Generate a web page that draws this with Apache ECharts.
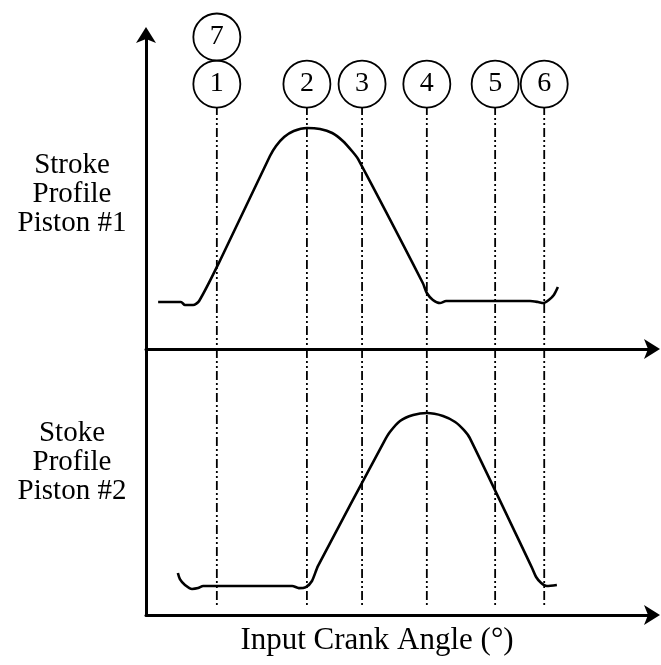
<!DOCTYPE html>
<html>
<head>
<meta charset="utf-8">
<title>Stroke profiles vs input crank angle</title>
<script src="https://cdn.jsdelivr.net/npm/echarts@6/dist/echarts.min.js"></script>
<style>
  html, body { margin: 0; padding: 0; background: #fff; }
  #chart { width: 661px; height: 665px; }
</style>
</head>
<body>
<div id="chart"></div>
<script>
// crank angle on a 0-100 scale, stroke in % of full stroke (0 = bottom dwell, 100 = top)
var piston1Angle = [2.4, 6.9, 7.7, 9.3, 10.5, 14.4, 24.5, 25.7, 27.3, 29.2, 31.8, 34.4, 36.8, 38.9, 40.7, 41.9, 54.7, 55.5, 56.7, 58.1, 59.3, 75.9, 77.5, 78.5, 79.6, 80.6, 81.4];
var piston1Stroke = [-0.6, -0.6, -2.3, -2.3, 0, 22.0, 83.8, 89.6, 94.8, 98.3, 100, 99.4, 97.1, 92.5, 86.7, 82.1, 10.4, 4.6, 0.6, -1.2, 0, 0, -0.6, -1.2, 0.6, 3.5, 8.1];

var piston2Angle = [6.3, 6.7, 7.7, 9.1, 10.3, 11.3, 28.9, 30.2, 31.6, 32.8, 34.0, 47.0, 48.2, 50.2, 52.8, 55.5, 58.7, 61.1, 62.8, 64.0, 76.3, 77.1, 78.1, 79.2, 81.2];
var piston2Stroke = [7.5, 4.0, 0.6, -1.7, -1.2, 0, 0, -1.2, -0.6, 2.9, 11.6, 83.2, 89.0, 95.4, 98.8, 100, 98.3, 94.8, 90.2, 85.5, 10.4, 5.2, 1.7, 0, 0.6];

var eventNames = ['1', '2', '3', '4', '5', '6'];
var eventAngles = [14.0, 31.8, 42.7, 55.5, 69.0, 78.7];
var repeatEventName = '7';   // same angle as event 1

var topRange = [-27.75, 153.76];
var bottomRange = [-16.76, 136.99];
var markerRow = 125.4, markerRowUpper = 152.6;
var guideBottom = -12.1;

var serif = '"Liberation Serif", "Times New Roman", serif';

function zip(xs, ys) {
  return xs.map(function (x, i) { return [x, ys[i]]; });
}

var axisX = function (idx) {
  return {
    type: 'value', gridIndex: idx, min: 0, max: 100,
    axisLine: { onZero: false, symbol: ['none', 'arrow'], symbolSize: [15, 16], symbolOffset: [0, 8], lineStyle: { color: '#000', width: 3 } },
    axisTick: { show: false }, axisLabel: { show: false }, splitLine: { show: false }
  };
};
var axisY = function (idx, range, arrow) {
  return {
    type: 'value', gridIndex: idx, min: range[0], max: range[1],
    axisLine: { show: true, onZero: false, symbol: arrow ? ['none', 'arrow'] : 'none', symbolSize: [15, 16], symbolOffset: [0, 8], lineStyle: { color: '#000', width: 3 } },
    axisTick: { show: false }, axisLabel: { show: false }, splitLine: { show: false }
  };
};

var series = [];
eventAngles.forEach(function (a) {
  var guide = { type: [9, 3, 2, 3, 2, 3], color: '#000', width: 1.8 };
  series.push({ type: 'line', xAxisIndex: 0, yAxisIndex: 0, data: [[a, markerRow], [a, topRange[0]]], symbol: 'none', lineStyle: guide, z: 2, silent: true });
  series.push({ type: 'line', xAxisIndex: 1, yAxisIndex: 1, data: [[a, bottomRange[1]], [a, guideBottom]], symbol: 'none', lineStyle: guide, z: 2, silent: true });
});

series.push({
  name: 'Piston #1', type: 'line', xAxisIndex: 0, yAxisIndex: 0,
  data: zip(piston1Angle, piston1Stroke), smooth: 0.25, showSymbol: false,
  lineStyle: { color: '#000', width: 2.6 }, z: 3
});
series.push({
  name: 'Piston #2', type: 'line', xAxisIndex: 1, yAxisIndex: 1,
  data: zip(piston2Angle, piston2Stroke), smooth: 0.25, showSymbol: false,
  lineStyle: { color: '#000', width: 2.6 }, z: 3
});

var markers = eventNames.map(function (n, i) { return [eventAngles[i], markerRow, n]; });
markers.push([eventAngles[0], markerRowUpper, repeatEventName]);
series.push({
  type: 'scatter', xAxisIndex: 0, yAxisIndex: 0, clip: false,
  data: markers, symbol: 'circle', symbolSize: 47, z: 5,
  itemStyle: { color: '#fff', borderColor: '#000', borderWidth: 1.8, opacity: 1 },
  label: {
    show: true, position: 'inside', color: '#000',
    fontFamily: serif, fontSize: 28,
    formatter: function (p) { return p.value[2]; }
  }
});

var chart = echarts.init(document.getElementById('chart'));
chart.setOption({
  backgroundColor: '#fff',
  animation: false,
  grid: [
    { left: 146, right: 9, top: 35, height: 314 },
    { left: 146, right: 9, top: 349, height: 266 }
  ],
  xAxis: [axisX(0), axisX(1)],
  yAxis: [axisY(0, topRange, true), axisY(1, bottomRange, false)],
  graphic: [
    { type: 'text', x: 72, y: 194, style: { text: 'Stroke\nProfile\nPiston #1', textAlign: 'center', textVerticalAlign: 'middle', font: '29px ' + serif, lineHeight: 29, fill: '#000' } },
    { type: 'text', x: 72, y: 462, style: { text: 'Stoke\nProfile\nPiston #2', textAlign: 'center', textVerticalAlign: 'middle', font: '29px ' + serif, lineHeight: 29, fill: '#000' } },
    { type: 'text', x: 377, y: 641, style: { text: 'Input Crank Angle (°)', textAlign: 'center', textVerticalAlign: 'middle', font: '31px ' + serif, fill: '#000' } }
  ],
  series: series
});
</script>
</body>
</html>
